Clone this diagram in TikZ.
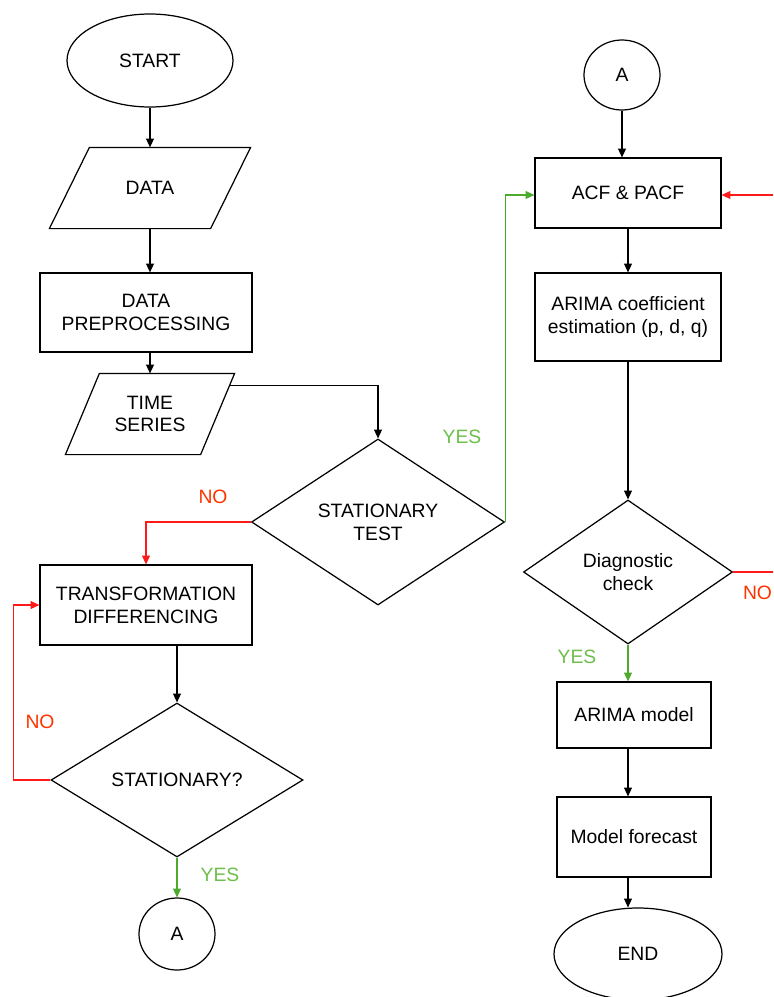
\documentclass[tikz,border=0pt]{standalone}
\usepackage{fontspec}
\setmainfont{Liberation Sans}
\usetikzlibrary{shapes.geometric,arrows.meta,calc}

\definecolor{fcNoLine}{HTML}{FF1A1A}
\definecolor{fcNoText}{HTML}{FF3300}
\definecolor{fcYesLine}{HTML}{4CAA2C}
\definecolor{fcYesText}{HTML}{6CBF4A}

\begin{document}
\begin{tikzpicture}[
  font=\fontsize{11}{13}\selectfont,
  line width=0.7pt,
  arr/.style={-{Triangle[length=5pt,width=4.5pt]},line width=0.65pt},
  procbox/.style={draw,rectangle,align=center,inner sep=2pt},
  iobox/.style={rectangle,align=center,inner sep=2pt,minimum height=1.6cm},
  testbox/.style={draw,diamond,align=center,inner sep=0pt},
  termbox/.style={draw,ellipse,inner sep=0pt},
  noline/.style={arr,draw=fcNoLine},
  yesline/.style={arr,draw=fcYesLine}
]
  \useasboundingbox (0,0) rectangle (15.46,-19.94);

  % ---- left column ----
  \node[termbox,minimum width=3.32cm,minimum height=1.86cm] (start) at (3.0,-1.21) {START};
  \node[iobox,minimum width=3.2cm] (data) at (3.0,-3.76) {DATA};
  \draw ([xshift=0.4cm]data.north west) -- ([xshift=0.4cm]data.north east)
     -- ([xshift=-0.4cm]data.south east) -- ([xshift=-0.4cm]data.south west) -- cycle;
  \node[procbox,minimum width=4.24cm,minimum height=1.58cm] (prep) at (2.92,-6.25) {DATA\\PREPROCESSING};
  \node[iobox,minimum width=2.68cm] (ts) at (3.0,-8.28) {TIME\\SERIES};
  \draw ([xshift=0.34cm]ts.north west) -- ([xshift=0.34cm]ts.north east)
     -- ([xshift=-0.34cm]ts.south east) -- ([xshift=-0.34cm]ts.south west) -- cycle;
  \node[testbox,minimum width=5.06cm,minimum height=3.32cm] (stest) at (7.56,-10.44) {STATIONARY\\TEST};
  \node[procbox,minimum width=4.24cm,minimum height=1.6cm] (trans) at (2.92,-12.1) {TRANSFORMATION\\DIFFERENCING};
  \node[testbox,minimum width=5.04cm,minimum height=3.08cm] (stat) at (3.54,-15.6) {STATIONARY?};
  \node[termbox,minimum width=1.52cm,minimum height=1.44cm] (conA) at (3.54,-18.68) {A};

  % ---- right column ----
  \node[termbox,minimum width=1.52cm,minimum height=1.4cm] (conB) at (12.44,-1.5) {A};
  \node[procbox,minimum width=3.72cm,minimum height=1.4cm] (acf) at (12.56,-3.86) {ACF \& PACF};
  \node[procbox,minimum width=3.72cm,minimum height=1.76cm] (coef) at (12.56,-6.34)
        {ARIMA coefficient\\estimation (p, d, q)};
  \node[testbox,minimum width=4.18cm,minimum height=2.88cm] (diag) at (12.56,-11.44) {Diagnostic\\check};
  \node[procbox,minimum width=3.08cm,minimum height=1.32cm] (model) at (12.68,-14.3) {ARIMA model};
  \node[procbox,minimum width=3.08cm,minimum height=1.6cm] (fcast) at (12.68,-16.74) {Model forecast};
  \node[termbox,minimum width=3.36cm,minimum height=1.84cm] (finish) at (12.76,-19.08) {END};

  % ---- plain connectors ----
  \coordinate (tsOut) at ([xshift=0.24cm,yshift=-0.24cm]ts.north east);
  \draw[arr] (start) -- (data.north);
  \draw[arr] (data.south) -- (data |- prep.north);
  \draw[arr] (prep.south -| data) -- (ts.north);
  \draw[arr] (tsOut) -| (stest.north);
  \draw[arr] (trans.south -| stat.north) -- (stat.north);
  \draw[arr] (conB) -- (conB |- acf.north);
  \draw[arr] (acf.south -| coef.south) -- (coef.north);
  \draw[arr] (coef) -- (diag);
  \draw[arr] (model.south -| diag.south) -- (fcast.north -| diag.south);
  \draw[arr] (fcast.south -| diag.south) -- (finish.north -| diag.south);

  % ---- NO branches ----
  \coordinate (edgeAcf)  at (15.46,-3.9);
  \coordinate (edgeDiag) at (15.46,-11.44);
  \draw[noline] (stest.west) -| (trans.north);
  \draw[noline] (stat.west) -- ++(-0.74,0) |- (trans.west);
  \draw[noline] (edgeAcf) -- (edgeAcf -| acf.east);
  \draw[noline,-] (diag.east) -- (edgeDiag);
  \node[text=fcNoText] (noA) at (4.26,-9.94) {NO};
  \node[text=fcNoText] (noB) at (0.8,-14.44) {NO};
  \node[text=fcNoText] (noC) at (15.15,-11.86) {NO};

  % ---- YES branches ----
  \draw[yesline] (stest.east) |- (edgeAcf -| acf.west);
  \draw[yesline] (stat.south) -- (conA.north);
  \draw[yesline] (diag.south) -- (diag.south |- model.north);
  \node[text=fcYesText] (yesA) at (9.24,-8.74) {YES};
  \node[text=fcYesText] (yesB) at (4.4,-17.5) {YES};
  \node[text=fcYesText] (yesC) at (11.54,-13.14) {YES};
\end{tikzpicture}
\end{document}
